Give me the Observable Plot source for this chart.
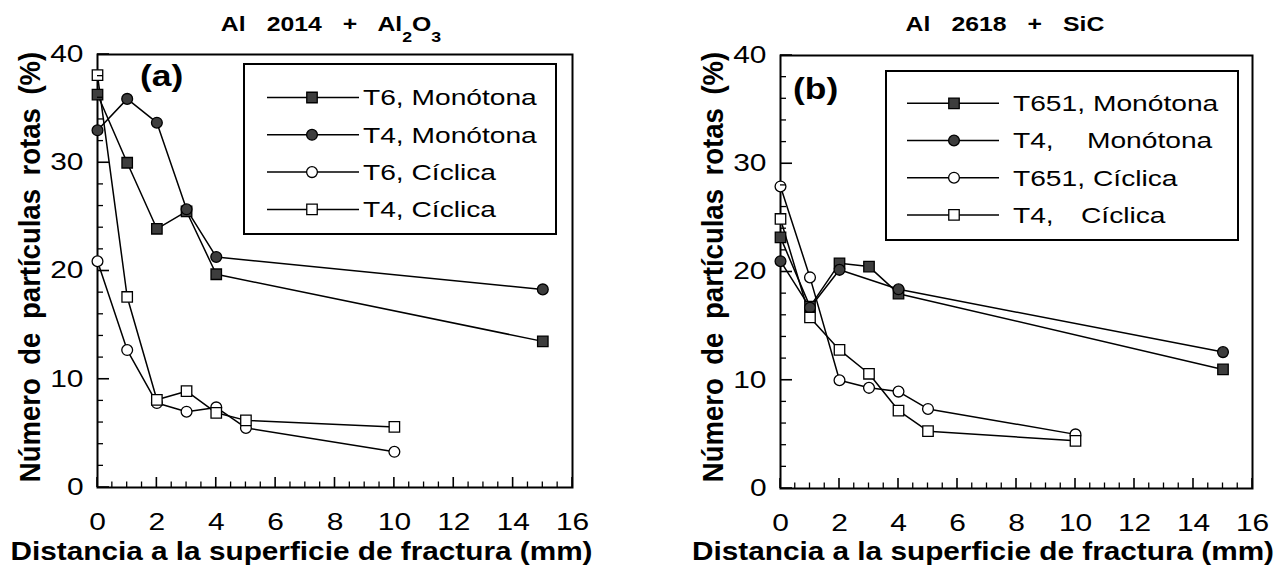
<!DOCTYPE html>
<html>
<head>
<meta charset="utf-8">
<script src="https://cdn.jsdelivr.net/npm/d3@7"></script>
<script src="https://cdn.jsdelivr.net/npm/@observablehq/plot@0.6"></script>
<style>
  html, body { margin: 0; padding: 0; background: #fff; }
  #wrap { position: relative; width: 1285px; height: 568px; overflow: hidden; background: #fff;
          font-family: "Liberation Sans", Arial, Helvetica, sans-serif; }
  #wrap svg { position: absolute; top: 0; }
</style>
</head>
<body>
<div id="wrap"></div>
<script>
// ---------------- DATA ----------------
// Panel (a): Al 2014 + Al2O3
const xMonotonaA   = [0, 1, 2, 3, 4, 15];
const yT6MonotonaA = [36.3, 30.0, 23.9, 25.5, 19.7, 13.5];
const yT4MonotonaA = [33.0, 35.9, 33.7, 25.7, 21.3, 18.3];
const xCiclicaA    = [0, 1, 2, 3, 4, 5, 10];
const yT6CiclicaA  = [20.9, 12.7, 7.8, 7.0, 7.4, 5.5, 3.3];
const yT4CiclicaA  = [38.1, 17.6, 8.1, 8.9, 6.9, 6.2, 5.6];

// Panel (b): Al 2618 + SiC
const xT651MonotonaB = [0, 1, 2, 3, 4, 15];
const yT651MonotonaB = [23.2, 16.8, 20.8, 20.5, 18.0, 11.0];
const xT4MonotonaB   = [0, 1, 2, 4, 15];
const yT4MonotonaB   = [21.0, 16.7, 20.2, 18.4, 12.6];
const xCiclicaB      = [0, 1, 2, 3, 4, 5, 10];
const yT651CiclicaB  = [27.9, 19.5, 10.0, 9.3, 8.95, 7.35, 5.0];
const yT4CiclicaB    = [24.9, 15.8, 12.8, 10.6, 7.2, 5.3, 4.4];

// Ticks and labels
const xTicks = [0, 2, 4, 6, 8, 10, 12, 14, 16];
const xMinorTicks = [0.5, 1, 1.5, 2.5, 3, 3.5, 4.5, 5, 5.5, 6.5, 7, 7.5, 8.5, 9, 9.5, 10.5, 11, 11.5, 12.5, 13, 13.5, 14.5, 15, 15.5];
const yTicks = [0, 10, 20, 30, 40];
const yMinorTicks = [2, 4, 6, 8, 12, 14, 16, 18, 22, 24, 26, 28, 32, 34, 36, 38];

const titleA = ["Al 2014 + Al", "2", "O", "3"];
const titleB = "Al 2618 + SiC";
const panelLabels = ["(a)", "(b)"];
const xLabel = "Distancia a la superficie de fractura (mm)";
const yLabel = "Número de partículas rotas (%)";
const legendA = ["T6, Monótona", "T4, Monótona", "T6, Cíclica", "T4, Cíclica"];
const legendBTreat = ["T651,", "T4,", "T651,", "T4,"];
const legendBLoad  = ["Monótona", "Monótona", "Cíclica", "Cíclica"];

// Marker styles per series (order matches legend)
const markerSymbols = ["square", "circle", "circle", "square"];
const markerFilled  = [true, true, false, false];

// ---------------- LAYOUT ----------------
const H = 568;
const FILL_DARK = "#3d3d3d";

const seriesA = [
  {x: xMonotonaA, y: yT6MonotonaA},
  {x: xMonotonaA, y: yT4MonotonaA},
  {x: xCiclicaA,  y: yT6CiclicaA},
  {x: xCiclicaA,  y: yT4CiclicaA}
];
const seriesB = [
  {x: xT651MonotonaB, y: yT651MonotonaB},
  {x: xT4MonotonaB,   y: yT4MonotonaB},
  {x: xCiclicaB,      y: yT651CiclicaB},
  {x: xCiclicaB,      y: yT4CiclicaB}
];

function rOf(sym) { return sym === "square" ? 5.9 : 5.4; }

function makePanel(series, L) {
  const rows = series.flatMap((s, k) => s.x.map((x, i) => ({x, y: s.y[i], k})));
  const marks = [
    Plot.axisX({ticks: xTicks, tickSize: 0, tickPadding: 26, fill: "#000", label: null}),
    Plot.axisY({ticks: yTicks, tickSize: 0, tickPadding: 14, fill: "#000", label: null}),
    Plot.frame({fill: "none", stroke: "#000", strokeWidth: 2})
  ];
  series.forEach((s, k) => {
    marks.push(Plot.line(rows.filter(d => d.k === k), {x: "x", y: "y", stroke: "#000", strokeWidth: 1.5}));
  });
  series.forEach((s, k) => {
    marks.push(Plot.dot(rows.filter(d => d.k === k), {
      x: "x", y: "y", symbol: markerSymbols[k], r: rOf(markerSymbols[k]),
      fill: markerFilled[k] ? FILL_DARK : "#fff", stroke: "#000", strokeWidth: 1.3
    }));
  });
  const svg = Plot.plot({
    width: L.width, height: H,
    marginLeft: L.ml, marginRight: L.mr, marginTop: L.mt, marginBottom: L.mb,
    style: {fontFamily: '"Liberation Sans", Arial, sans-serif', fontSize: "23px", color: "#000",
            background: "transparent", overflow: "visible"},
    x: {domain: [0, 16]},
    y: {domain: [0, 40]},
    marks
  });
  svg.style.left = L.left + "px";
  svg.querySelectorAll('g[aria-label$="tick label"] text').forEach(t => t.setAttribute("data-stretch", "1.3"));
  return svg;
}

// inward ticks placed with the plot's own x / y scales
function addTicks(svg, L) {
  const sx = svg.scale("x"), sy = svg.scale("y");
  const fx0 = L.ml, fy1 = H - L.mb;
  const g = d3.select(svg).append("g").attr("stroke", "#000").attr("fill", "none");
  const tick = (x1, y1, x2, y2, w) => g.append("line").attr("x1", x1).attr("y1", y1)
      .attr("x2", x2).attr("y2", y2).attr("stroke-width", w);
  xMinorTicks.forEach(v => { const px = sx.apply(v); tick(px, fy1, px, fy1 - 5.5, 1.3); });
  xTicks.forEach(v => { const px = sx.apply(v); tick(px, fy1, px, fy1 - 10, 1.6); });
  yMinorTicks.forEach(v => { const py = sy.apply(v); tick(fx0, py, fx0 + 6, py, 1.3); });
  yTicks.forEach(v => { const py = sy.apply(v); tick(fx0, py, fx0 + 12, py, 1.6); });
}

function symbolPath(sym) {
  const r = rOf(sym);
  return sym === "square" ? d3.symbol(d3.symbolSquare, Math.PI * r * r)() : d3.symbol(d3.symbolCircle, Math.PI * r * r)();
}

function decorate(svg, L, opts) {
  const s = d3.select(svg);
  const fx0 = L.ml, fx1 = L.width - L.mr;
  // title
  const t = s.append("text").attr("data-stretch", "1.18")
    .attr("x", L.titleX).attr("y", 31).attr("text-anchor", "middle")
    .attr("font-weight", "bold").attr("font-size", 21).style("word-spacing", "12px");
  if (Array.isArray(opts.title)) {
    t.append("tspan").text(opts.title[0]);
    t.append("tspan").attr("dy", 11).attr("font-size", 15).text(opts.title[1]);
    t.append("tspan").attr("dy", -11).text(opts.title[2]);
    t.append("tspan").attr("dy", 11).attr("font-size", 15).text(opts.title[3]);
  } else {
    t.text(opts.title);
  }
  // panel label
  s.append("text").attr("data-stretch", "1.18").attr("text-anchor", "start")
    .attr("x", L.tagX).attr("y", L.tagY).attr("font-weight", "bold").attr("font-size", 30)
    .text(opts.tag);
  // x axis title
  s.append("text")
    .attr("x", (fx0 + fx1) / 2 - 33).attr("y", 560).attr("text-anchor", "middle")
    .attr("font-weight", "bold").attr("font-size", 25)
    .attr("textLength", 582).attr("lengthAdjust", "spacingAndGlyphs")
    .text(xLabel);
  // y axis title (rotated)
  s.append("text")
    .attr("transform", `translate(${fx0 - 57},267) rotate(-90) scale(1,1.06)`)
    .attr("text-anchor", "middle").attr("font-weight", "bold").attr("font-size", 27.5)
    .style("word-spacing", "6px")
    .text(yLabel);
  // legend
  const g = s.append("g");
  g.append("rect").attr("x", L.lgX).attr("y", L.lgY).attr("width", L.lgW).attr("height", L.lgH)
    .attr("fill", "#fff").attr("stroke", "#000").attr("stroke-width", 2);
  for (let i = 0; i < 4; i++) {
    const cy = L.rowY0 + i * L.rowStep;
    g.append("line").attr("x1", L.lnX0).attr("x2", L.lnX1).attr("y1", cy).attr("y2", cy)
      .attr("stroke", "#000").attr("stroke-width", 1.5);
    g.append("path").attr("d", symbolPath(markerSymbols[i]))
      .attr("transform", `translate(${L.mkX},${cy})`)
      .attr("fill", markerFilled[i] ? FILL_DARK : "#fff").attr("stroke", "#000").attr("stroke-width", 1.3);
    if (opts.legend) {
      g.append("text").attr("data-stretch", "1.28").attr("text-anchor", "start")
        .attr("x", L.txX).attr("y", cy + 7.8)
        .attr("font-size", 22).text(opts.legend[i]);
    } else {
      g.append("text").attr("data-stretch", "1.28").attr("text-anchor", "start")
        .attr("x", L.txX).attr("y", cy + 7.8)
        .attr("font-size", 22).text(opts.treat[i]);
      g.append("text").attr("data-stretch", "1.28").attr("text-anchor", "start")
        .attr("x", L.txX + L.suffixDx[i]).attr("y", cy + 7.8)
        .attr("font-size", 22).text(opts.load[i]);
    }
  }
}

function stretchTexts(svg) {
  svg.querySelectorAll("text[data-stretch]").forEach(el => {
    const k = +el.getAttribute("data-stretch");
    const len = el.getComputedTextLength();
    if (len > 0) {
      el.setAttribute("textLength", (len * k).toFixed(2));
      el.setAttribute("lengthAdjust", "spacingAndGlyphs");
    }
  });
}

const LA = {left: 0, width: 640, ml: 97, mr: 68, mt: 54, mb: 81,
  titleX: 331, tagX: 140, tagY: 86,
  lgX: 244, lgY: 64, lgW: 312, lgH: 170,
  rowY0: 97.5, rowStep: 37.3, lnX0: 267, lnX1: 359, mkX: 312, txX: 363};
const LB = {left: 640, width: 645, ml: 140, mr: 33, mt: 55, mb: 80,
  titleX: 365, tagX: 153, tagY: 99,
  lgX: 246, lgY: 71, lgW: 352, lgH: 169,
  rowY0: 103.3, rowStep: 37.2, lnX0: 267, lnX1: 359, mkX: 314, txX: 373,
  suffixDx: [80, 74, 80, 68]};

const wrap = document.getElementById("wrap");
const svgA = makePanel(seriesA, LA);
const svgB = makePanel(seriesB, LB);
wrap.appendChild(svgA);
wrap.appendChild(svgB);
decorate(svgA, LA, {title: titleA, tag: panelLabels[0], legend: legendA});
decorate(svgB, LB, {title: titleB, tag: panelLabels[1], treat: legendBTreat, load: legendBLoad});
addTicks(svgA, LA);
addTicks(svgB, LB);
stretchTexts(svgA);
stretchTexts(svgB);
</script>
</body>
</html>
